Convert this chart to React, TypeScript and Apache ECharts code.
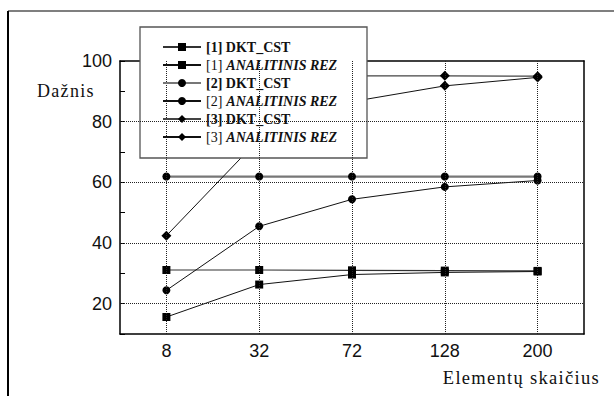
import React, { useEffect, useRef } from "react";
import * as echarts from "echarts";

const categories = ["8", "32", "72", "128", "200"];
const dkt1 = [31.1, 31.1, 31.0, 30.9, 30.8];
const anal1 = [15.6, 26.3, 29.6, 30.3, 30.6];
const dkt2 = [61.9, 61.9, 61.9, 61.9, 61.9];
const anal2 = [24.4, 45.5, 54.4, 58.5, 60.6];
const dkt3 = [95.1, 95.1, 95.1, 95.1, 95.0];
const anal3 = [42.4, 74.3, 86.6, 91.8, 94.6];
const gridValues = [20, 40, 60, 80];

const SERIF = "Liberation Serif";
const SANS = "Liberation Sans";

export default function App() {
  const ref = useRef<HTMLDivElement>(null);
  useEffect(() => {
    if (!ref.current) return;
    const chart = echarts.init(ref.current, undefined, { renderer: "svg" });
    const mk = (name: string, data: number[], symbol: string, size: number, color: string, width: number, extra: any = {}) => ({
      name,
      type: "line",
      data,
      symbol,
      symbolSize: size,
      showSymbol: true,
      itemStyle: { color: "#000" },
      lineStyle: { color, width },
      emphasis: { disabled: true },
      ...extra,
    });
    chart.setOption({
      animation: false,
      backgroundColor: "#fff",
      grid: { left: 120, top: 61, right: 30, bottom: 62 },
      legend: {
        orient: "vertical",
        left: 140,
        top: 27,
        padding: [13, 0, 0, 22],
        z: 10,
        itemWidth: 38,
        itemHeight: 10,
        itemGap: 4,
        selectedMode: false,
        textStyle: {
          fontFamily: SERIF,
          fontSize: 14,
          lineHeight: 14,
          color: "#111",
          fontWeight: "bold",
          rich: {
            n: { fontFamily: SERIF, fontSize: 14, fontWeight: "normal", color: "#111", padding: [0, 4, 0, 0] },
            a: { fontFamily: SERIF, fontSize: 14, fontWeight: "bold", fontStyle: "italic", color: "#111" },
            b: { fontFamily: SERIF, fontSize: 14, fontWeight: "bold", color: "#111" },
          },
        },
        formatter: (name: string) => {
          if (name.indexOf("ANALITINIS") >= 0) {
            const p = name.split(" ")[0];
            return `{n|${p}}{a|ANALITINIS REZ}`;
          }
          return `{b|${name}}`;
        },
        data: [
          "[1] DKT_CST",
          "[1] ANALITINIS REZ",
          "[2] DKT_CST",
          "[2] ANALITINIS REZ",
          "[3] DKT_CST",
          "[3] ANALITINIS REZ",
        ],
      },
      xAxis: [
        {
          type: "category",
          data: categories,
          boundaryGap: true,
          axisLine: { lineStyle: { color: "#000", width: 1.5 } },
          axisTick: { inside: true, length: 5, lineStyle: { color: "#000" } },
          axisLabel: { fontFamily: SANS, fontSize: 18, color: "#111", margin: 8 },
          splitLine: { show: false },
        },
        {
          type: "category",
          data: categories,
          position: "top",
          boundaryGap: true,
          axisLine: { show: true, lineStyle: { color: "#000", width: 1.5 } },
          axisTick: { inside: true, length: 5, lineStyle: { color: "#000" } },
          axisLabel: { show: false },
          splitLine: { show: false },
        },
      ],
      yAxis: [
        {
          type: "value",
          min: 10,
          max: 100,
          interval: 10,
          axisLine: { show: true, lineStyle: { color: "#000", width: 1.5 } },
          axisTick: { show: true, inside: true, length: 5, lineStyle: { color: "#000" } },
          axisLabel: {
            fontFamily: SANS,
            fontSize: 18,
            color: "#111",
            margin: 8,
            formatter: (v: number) => (v % 20 === 0 ? String(v) : ""),
          },
          splitLine: { show: false },
        },
        {
          type: "value",
          min: 10,
          max: 100,
          interval: 10,
          position: "right",
          axisLine: { show: true, lineStyle: { color: "#000", width: 1.5 } },
          axisTick: { show: false },
          axisLabel: { show: false },
          splitLine: { show: false },
        },
      ],
      series: [
        mk("[1] DKT_CST", dkt1, "rect", 8, "#333", 1.2, {
          markLine: {
            silent: true,
            symbol: "none",
            label: { show: false },
            lineStyle: { type: "dotted", color: "#222", width: 1 },
            data: [
              ...gridValues.map((v) => ({ yAxis: v })),
              ...categories.map((c) => ({ xAxis: c })),
            ],
          },
        }),
        mk("[1] ANALITINIS REZ", anal1, "rect", 8, "#111", 1),
        mk("[2] DKT_CST", dkt2, "circle", 8, "#777", 2.2),
        mk("[2] ANALITINIS REZ", anal2, "circle", 8, "#111", 1),
        mk("[3] DKT_CST", dkt3, "diamond", 10, "#444", 1.2),
        mk("[3] ANALITINIS REZ", anal3, "diamond", 10, "#111", 1),
      ],
      graphic: [
        {
          type: "rect",
          z: 5,
          shape: { x: 140, y: 27, width: 227, height: 131 },
          style: { fill: "#fff", stroke: "#555", lineWidth: 1.3 },
        },
        {
          type: "line",
          z: 5,
          shape: { x1: 8, y1: 11, x2: 614, y2: 11 },
          style: { stroke: "#555", lineWidth: 1.5 },
        },
        {
          type: "line",
          z: 5,
          shape: { x1: 8, y1: 11, x2: 8, y2: 396 },
          style: { stroke: "#000", lineWidth: 2 },
        },
        {
          type: "text",
          z: 5,
          x: 37,
          y: 91,
          style: { text: "Dažnis", font: `18px "${SERIF}", serif`, fill: "#111", textAlign: "left", textVerticalAlign: "middle" },
        },
        {
          type: "text",
          z: 5,
          x: 600,
          y: 378,
          style: { text: "Elementų skaičius", font: `18.5px "${SERIF}", serif`, fill: "#111", textAlign: "right", textVerticalAlign: "middle" },
        },
      ],
    });
    return () => chart.dispose();
  }, []);
  return (
    <div style={{ position: "absolute", left: 0, top: 0 }}>
      <style>{`#chartbox text[style*=", serif"], #chartbox text[font-family*=", serif"] { letter-spacing: 1.3px; }`}</style>
      <div id="chartbox" ref={ref} style={{ width: 614, height: 396 }} />
    </div>
  );
}
